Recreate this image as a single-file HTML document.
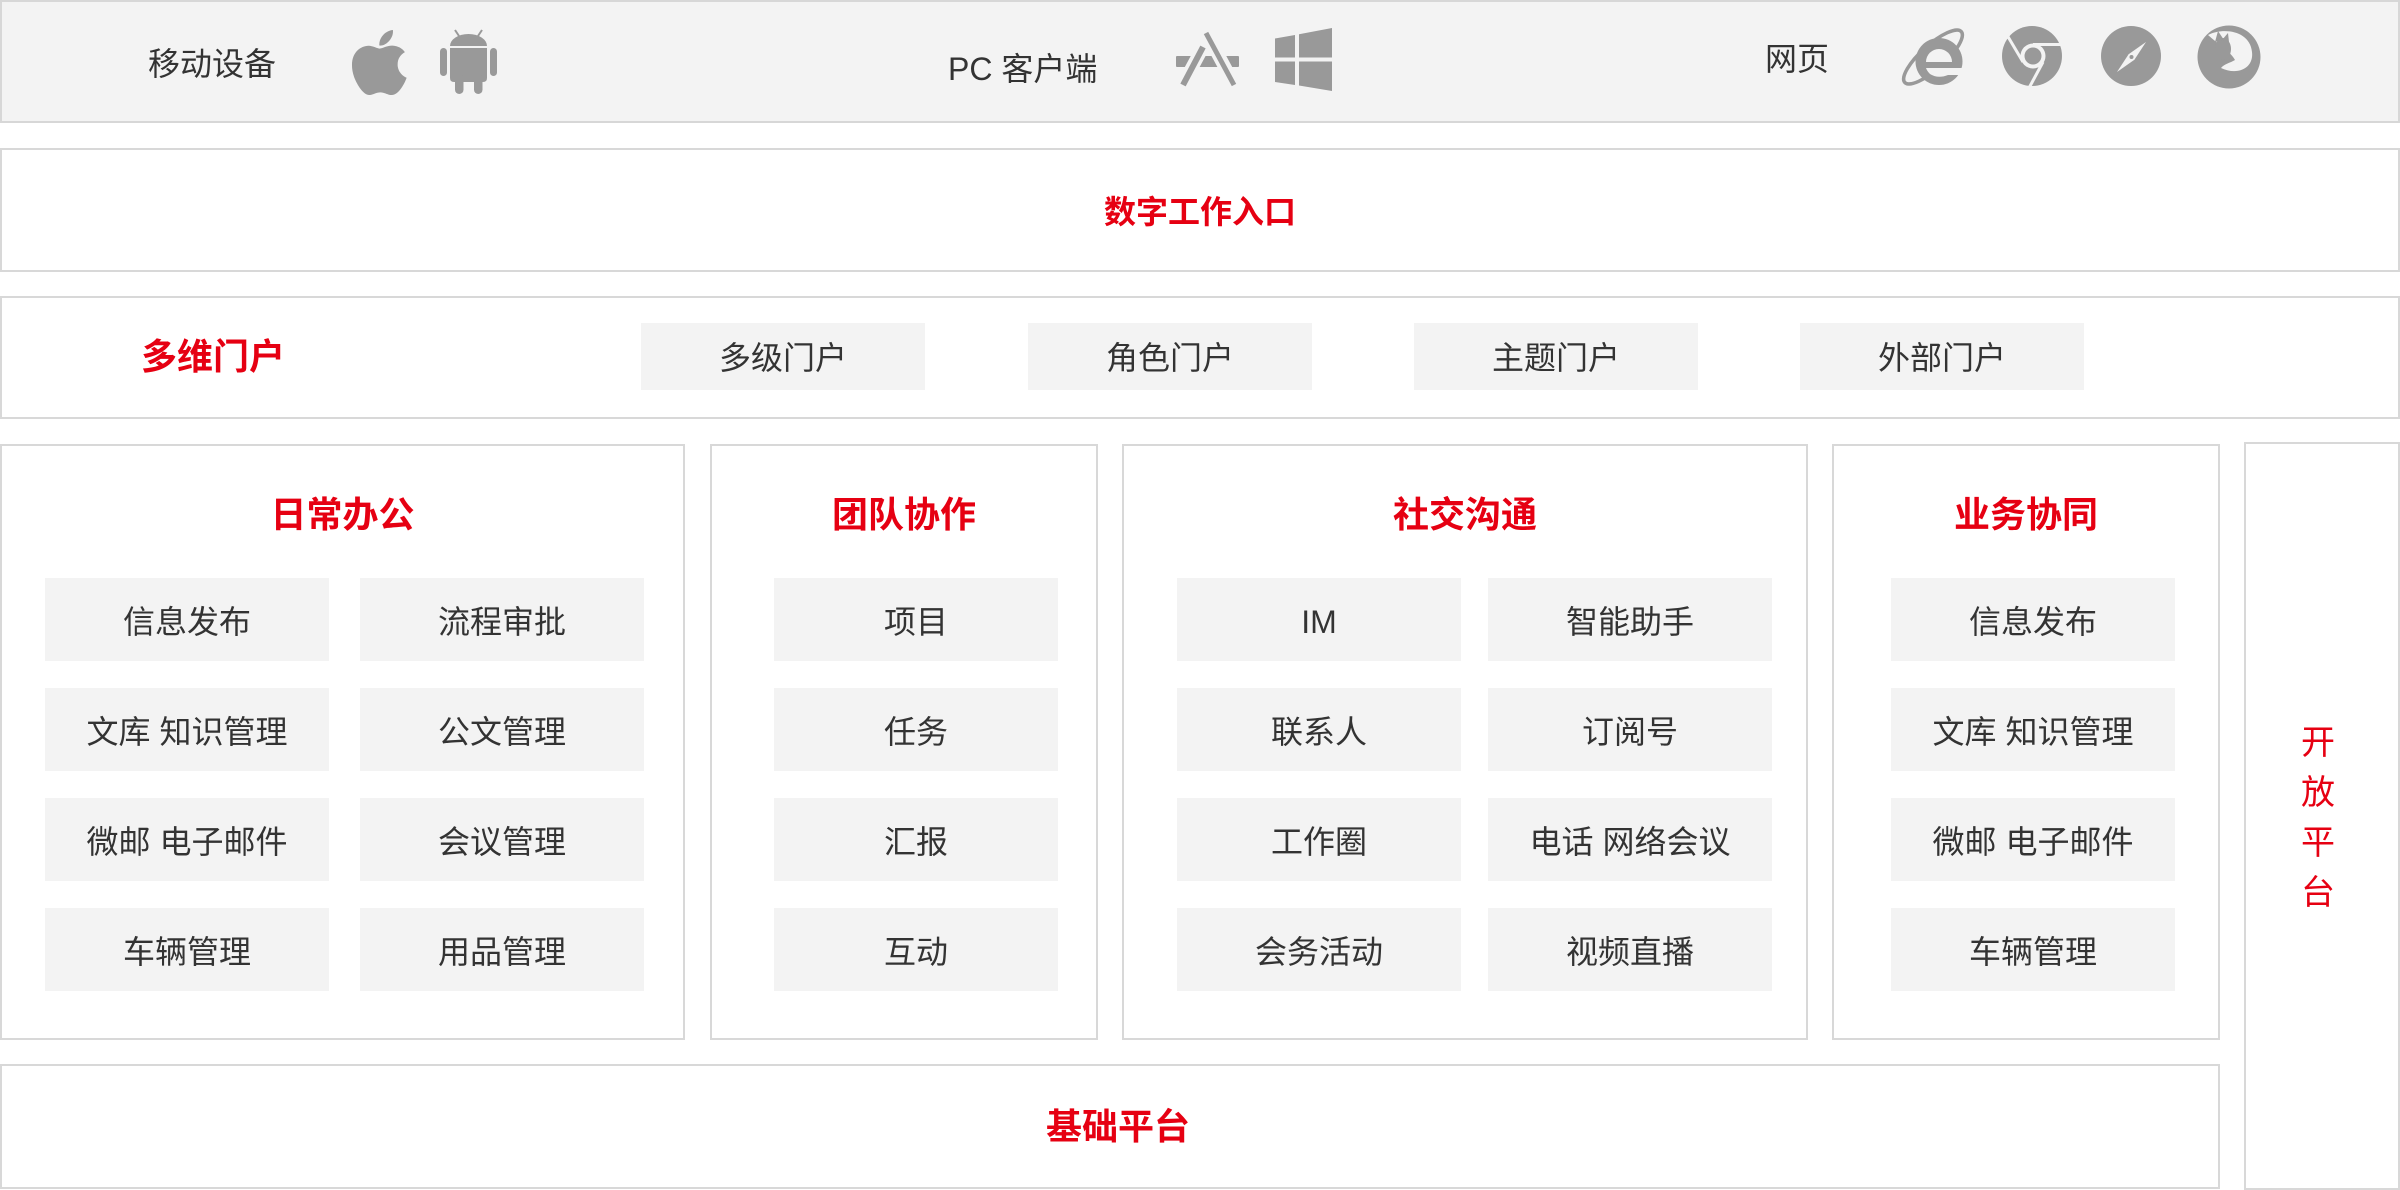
<!DOCTYPE html>
<html><head><meta charset="utf-8">
<style>
*{margin:0;padding:0;box-sizing:border-box}
html,body{width:2400px;height:1190px;background:#fff;overflow:hidden}
body{position:relative;font-family:"Liberation Sans","Noto Sans CJK SC",sans-serif;color:#333}
.box{position:absolute;border:2px solid #d8d8d8;background:#fff}
.t{position:absolute;white-space:nowrap}
.red{color:#e60012;font-weight:600}
.it{position:absolute;width:284px;height:83px;background:#f3f3f3;display:flex;align-items:center;justify-content:center;font-size:32px;line-height:32px;white-space:nowrap;padding-top:5px}
.pi{position:absolute;top:323px;width:284px;height:67px;background:#f3f3f3;display:flex;align-items:center;justify-content:center;font-size:32px;line-height:32px;white-space:nowrap;padding-top:3px}
.ttl{position:absolute;top:497px;height:36px;font-size:36px;line-height:36px;text-align:center;white-space:nowrap}
</style></head><body>

<!-- Top bar -->
<div class="box" style="left:0;top:0;width:2400px;height:123px;background:#f3f3f3;border-color:#d7d7d7"></div>
<div class="t" style="left:148px;top:48px;height:32px;font-size:32px;line-height:32px">移动设备</div>
<div class="t" style="left:948px;top:53px;height:32px;font-size:32px;line-height:32px">PC 客户端</div>
<div class="t" style="left:1765px;top:43px;height:32px;font-size:32px;line-height:32px">网页</div>

<svg style="position:absolute;left:0;top:0" width="2400" height="123" viewBox="0 0 2400 123">
  <g fill="#999">
    <!-- Apple -->
    <path transform="translate(351.4,25.4) scale(0.1451)" d="M318.7 268.7c-.2-36.7 16.4-64.4 50-84.8-18.8-26.9-47.2-41.7-84.7-44.6-35.5-2.8-74.3 20.7-88.5 20.7-15 0-49.4-19.7-76.4-19.7C63.3 141.2 4 184.8 4 273.5q0 39.3 14.4 81.2c12.8 36.7 59 126.7 107.2 125.2 25.2-.6 43-17.9 75.8-17.9 31.8 0 48.3 17.9 76.4 17.9 48.6-.7 90.4-82.5 102.6-119.3-65.2-30.7-61.7-90-61.7-91.9zm-56.6-164.2c27.3-32.4 24.8-61.9 24-72.5-24.1 1.4-52 16.4-67.9 34.9-17.5 19.8-27.8 44.3-25.6 71.9 26.1 2 49.9-11.4 69.5-34.3z"/>
    <!-- Android -->
    <line x1="455" y1="30" x2="461" y2="39" stroke="#999" stroke-width="2"/>
    <line x1="482" y1="30" x2="476" y2="39" stroke="#999" stroke-width="2"/>
    <path d="M450,46 A18.5,12 0 0 1 487,46 Z"/>
    <path d="M450,48 H487 V78 Q487,82 483,82 H454 Q450,82 450,78 Z"/>
    <rect x="440" y="48" width="7" height="28" rx="3.5"/>
    <rect x="490" y="48" width="7" height="28" rx="3.5"/>
    <rect x="455" y="74" width="8.5" height="20" rx="4.2"/>
    <rect x="474" y="74" width="8.5" height="20" rx="4.2"/>
    <!-- App Store -->
    <rect x="1176" y="56" width="63" height="11" rx="1"/>
    <line x1="1203" y1="47" x2="1182" y2="86" stroke="#f3f3f3" stroke-width="13"/>
    <line x1="1206" y1="32" x2="1235" y2="86" stroke="#f3f3f3" stroke-width="13"/>
    <line x1="1203" y1="47" x2="1183" y2="85" stroke="#999" stroke-width="6"/>
    <line x1="1206" y1="33" x2="1234" y2="85" stroke="#999" stroke-width="5"/>
    <!-- Windows -->
    <polygon points="1275,38.5 1295,35 1295,57.5 1275,57.5"/>
    <polygon points="1299,34.3 1332,28 1332,57.5 1299,57.5"/>
    <polygon points="1275,61.5 1295,61.5 1295,85 1275,82"/>
    <polygon points="1299,61.5 1332,61.5 1332,91 1299,85.5"/>
    <!-- IE -->
    <ellipse cx="1933" cy="57" rx="38" ry="12" transform="rotate(-42 1933 57)" fill="none" stroke="#999" stroke-width="3.5"/>
    <circle cx="1939" cy="61.5" r="23.5"/>
    <path d="M1926,62 A13,13 0 0 1 1952,62 Z" fill="#f3f3f3"/>
    <path d="M1926,68 L1966,68 L1966,75 L1948,75 Q1938,79 1930,74 Q1927,71 1926,68 Z" fill="#f3f3f3"/>
    <!-- Chrome -->
    <circle cx="2032" cy="56" r="30"/>
    <circle cx="2033" cy="56" r="12.5" fill="#f3f3f3"/>
    <circle cx="2033" cy="56" r="8.5"/>
    <line x1="2033" y1="44.5" x2="2064" y2="44.5" stroke="#f3f3f3" stroke-width="3"/>
    <line x1="2023" y1="62" x2="2007" y2="35" stroke="#f3f3f3" stroke-width="3"/>
    <line x1="2043" y1="62" x2="2029" y2="88" stroke="#f3f3f3" stroke-width="3"/>
    <!-- Safari -->
    <circle cx="2131" cy="56" r="30"/>
    <polygon points="2146,42 2134.4,59.8 2117,72 2128.6,54.2" fill="#f3f3f3"/>
    <circle cx="2131.5" cy="57" r="2" fill="#999"/>
    <!-- Firefox -->
    <circle cx="2229" cy="57" r="31.5"/>
    <path d="M2208,35 C2224,27 2250,31 2252,52 C2254,68 2238,76 2221,68 C2224,64 2230,63 2235,60 C2231,52 2218,44 2208,35 Z" fill="#f3f3f3"/>
    <ellipse cx="2223" cy="49" rx="8" ry="11"/>
    <polygon points="2215,42 2218,31 2224,40"/>
    <polygon points="2222,40 2228,33 2229,42"/>
  </g>
</svg>

<!-- 数字工作入口 -->
<div class="box" style="left:0;top:148px;width:2400px;height:124px"></div>
<div class="t red" style="left:0;width:2400px;top:196px;height:32px;font-size:32px;line-height:32px;text-align:center">数字工作入口</div>

<!-- 多维门户 -->
<div class="box" style="left:0;top:296px;width:2400px;height:123px"></div>
<div class="t red" style="left:141px;top:339px;height:36px;font-size:36px;line-height:36px">多维门户</div>
<div class="pi" style="left:641px">多级门户</div>
<div class="pi" style="left:1028px">角色门户</div>
<div class="pi" style="left:1414px">主题门户</div>
<div class="pi" style="left:1800px">外部门户</div>

<!-- Columns -->
<div class="box" style="left:0;top:444px;width:685px;height:596px"></div>
<div class="box" style="left:710px;top:444px;width:388px;height:596px"></div>
<div class="box" style="left:1122px;top:444px;width:686px;height:596px"></div>
<div class="box" style="left:1832px;top:444px;width:388px;height:596px"></div>
<div class="box" style="left:2244px;top:442px;width:156px;height:748px"></div>

<div class="ttl red" style="left:0;width:685px">日常办公</div>
<div class="ttl red" style="left:710px;width:388px">团队协作</div>
<div class="ttl red" style="left:1122px;width:686px">社交沟通</div>
<div class="ttl red" style="left:1832px;width:388px">业务协同</div>

<!-- col1 -->
<div class="it" style="left:45px;top:578px">信息发布</div>
<div class="it" style="left:45px;top:688px">文库 知识管理</div>
<div class="it" style="left:45px;top:798px">微邮 电子邮件</div>
<div class="it" style="left:45px;top:908px">车辆管理</div>
<div class="it" style="left:360px;top:578px">流程审批</div>
<div class="it" style="left:360px;top:688px">公文管理</div>
<div class="it" style="left:360px;top:798px">会议管理</div>
<div class="it" style="left:360px;top:908px">用品管理</div>
<!-- col2 -->
<div class="it" style="left:774px;top:578px">项目</div>
<div class="it" style="left:774px;top:688px">任务</div>
<div class="it" style="left:774px;top:798px">汇报</div>
<div class="it" style="left:774px;top:908px">互动</div>
<!-- col3 -->
<div class="it" style="left:1177px;top:578px">IM</div>
<div class="it" style="left:1177px;top:688px">联系人</div>
<div class="it" style="left:1177px;top:798px">工作圈</div>
<div class="it" style="left:1177px;top:908px">会务活动</div>
<div class="it" style="left:1488px;top:578px">智能助手</div>
<div class="it" style="left:1488px;top:688px">订阅号</div>
<div class="it" style="left:1488px;top:798px">电话 网络会议</div>
<div class="it" style="left:1488px;top:908px">视频直播</div>
<!-- col4 -->
<div class="it" style="left:1891px;top:578px">信息发布</div>
<div class="it" style="left:1891px;top:688px">文库 知识管理</div>
<div class="it" style="left:1891px;top:798px">微邮 电子邮件</div>
<div class="it" style="left:1891px;top:908px">车辆管理</div>

<!-- 开放平台 -->
<div class="t" style="left:2244px;width:148px;top:718px;font-size:34px;line-height:50px;text-align:center;color:#e60012;white-space:normal">开<br>放<br>平<br>台</div>

<!-- 基础平台 -->
<div class="box" style="left:0;top:1064px;width:2220px;height:125px"></div>
<div class="t red" style="left:0;width:2236px;top:1109px;height:36px;font-size:36px;line-height:36px;text-align:center">基础平台</div>

</body></html>
